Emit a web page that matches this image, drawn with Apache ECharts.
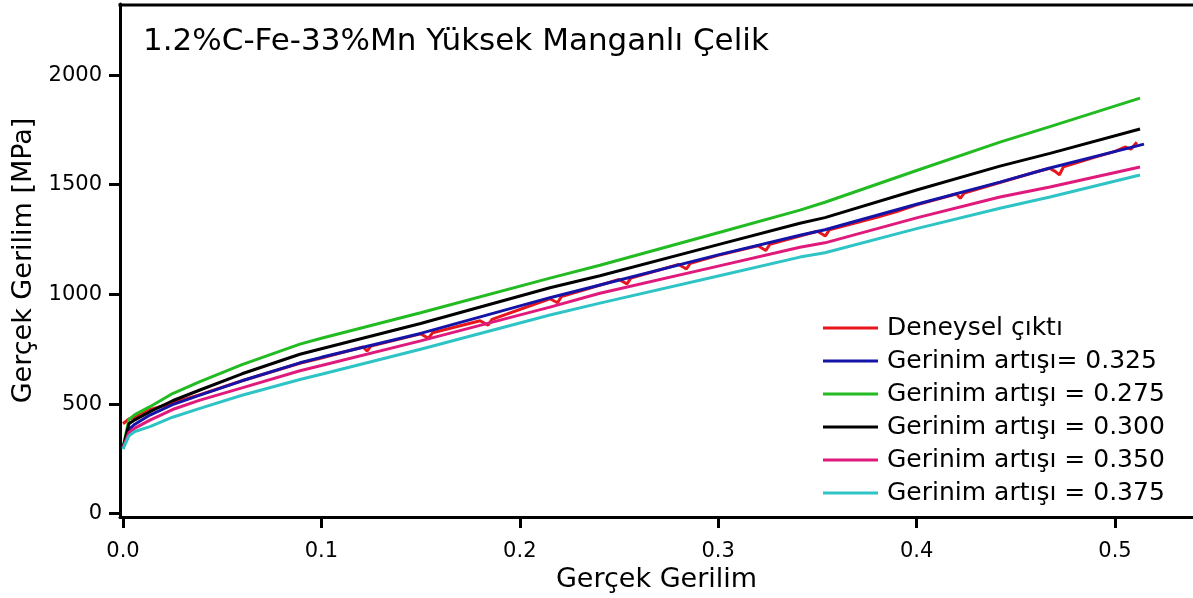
<!DOCTYPE html>
<html>
<head>
<meta charset="utf-8">
<script src="https://cdn.jsdelivr.net/npm/echarts@6/dist/echarts.min.js"></script>
<style>html,body{margin:0;padding:0;background:#fff;}#c{width:1193px;height:598px;}</style>
</head>
<body>
<div id="c"></div>
<script>
// ---- data ----
var titleText = '1.2%C-Fe-33%Mn Yüksek Manganlı Çelik';
var xAxisName = 'Gerçek Gerilim';
var yAxisName = 'Gerçek Gerilim [MPa]';
var xTicks = [0, 0.1, 0.2, 0.3, 0.4, 0.5];
var yTicks = [0, 500, 1000, 1500, 2000];
var seriesNames = ['Deneysel çıktı', 'Gerinim artışı= 0.325', 'Gerinim artışı = 0.275', 'Gerinim artışı = 0.300', 'Gerinim artışı = 0.350', 'Gerinim artışı = 0.375'];

var expStrain = [0, 0.003, 0.006, 0.0136, 0.025, 0.0388, 0.06, 0.0892, 0.1, 0.121, 0.123, 0.125, 0.15, 0.154, 0.156, 0.18, 0.184, 0.186, 0.2152, 0.219, 0.221, 0.25, 0.254, 0.256, 0.28, 0.284, 0.286, 0.3, 0.32, 0.324, 0.326, 0.3412, 0.35, 0.354, 0.356, 0.38, 0.39, 0.4, 0.42, 0.422, 0.424, 0.442, 0.46, 0.467, 0.47, 0.472, 0.474, 0.49, 0.5, 0.505, 0.508, 0.511];
var expStress = [410, 432, 440, 474, 505, 543, 606, 686, 710, 760, 742, 764, 820, 800, 825, 880, 860, 886, 980, 962, 990, 1068, 1048, 1074, 1136, 1116, 1142, 1178, 1222, 1200, 1228, 1266, 1288, 1266, 1294, 1352, 1378, 1408, 1458, 1438, 1462, 1510, 1558, 1575, 1560, 1545, 1582, 1626, 1652, 1672, 1662, 1694];

var simStrain = [0, 0.003, 0.006, 0.0136, 0.025, 0.0388, 0.06, 0.0892, 0.1, 0.15, 0.2152, 0.2404, 0.3, 0.3412, 0.3538, 0.4, 0.442, 0.4672, 0.5126];
var blueStrain = [0, 0.003, 0.006, 0.0136, 0.025, 0.0388, 0.06, 0.0892, 0.1, 0.15, 0.2152, 0.2404, 0.3, 0.3412, 0.3538, 0.4, 0.442, 0.4672, 0.5146];
var stress0325 = [300, 385, 408, 450, 497, 541, 606, 688, 713, 822, 985, 1043, 1180, 1270, 1295, 1411, 1512, 1576, 1685];
var stress0275 = [300, 430, 452, 488, 548, 602, 680, 773, 800, 916, 1074, 1133, 1281, 1384, 1420, 1565, 1694, 1765, 1895];
var stress0300 = [300, 410, 428, 465, 515, 564, 638, 727, 752, 867, 1030, 1085, 1227, 1324, 1350, 1476, 1585, 1643, 1754];
var stress0350 = [300, 370, 390, 427, 475, 518, 574, 652, 676, 788, 942, 1005, 1129, 1215, 1235, 1349, 1444, 1490, 1581];
var stress0375 = [295, 355, 375, 397, 440, 480, 540, 612, 636, 750, 906, 960, 1084, 1170, 1190, 1300, 1393, 1444, 1544];

var colors = ['#e8161c', '#1414a8', '#22bb22', '#000000', '#e01a7c', '#2ec4c6'];

function zip(xs, ys) { return xs.map(function (x, i) { return [x, ys[i]]; }); }

var FONT = 'DejaVu Sans';
var seriesData = [
  zip(expStrain, expStress),
  zip(blueStrain, stress0325),
  zip(simStrain, stress0275),
  zip(simStrain, stress0300),
  zip(simStrain, stress0350),
  zip(simStrain, stress0375)
];

var chart = echarts.init(document.getElementById('c'), null, {renderer: 'canvas'});
chart.setOption({
  animation: false,
  backgroundColor: '#fff',
  color: colors,
  grid: {left: 120, right: 0, top: 4, bottom: 81, containLabel: false, outerBoundsMode: 'none'},
  xAxis: {
    type: 'value', min: -0.0015, max: 0.5393,
    name: xAxisName, nameLocation: 'middle', nameGap: 44,
    nameTextStyle: {fontFamily: FONT, fontSize: 27, color: '#000'},
    axisLine: {show: true, onZero: false, lineStyle: {color: '#000', width: 3}},
    axisTick: {show: true, length: 11, lineStyle: {color: '#000', width: 3}, customValues: xTicks},
    axisLabel: {fontFamily: FONT, fontSize: 21, color: '#000', margin: 24, customValues: xTicks,
      formatter: function (v) { return v.toFixed(1); }},
    splitLine: {show: false}
  },
  yAxis: {
    type: 'value', min: -15, max: 2324,
    name: yAxisName, nameLocation: 'middle', nameGap: 74,
    nameTextStyle: {fontFamily: FONT, fontSize: 27, color: '#000'},
    axisLine: {show: true, onZero: false, lineStyle: {color: '#000', width: 3}},
    axisTick: {show: true, length: 11, lineStyle: {color: '#000', width: 3}, customValues: yTicks},
    axisLabel: {fontFamily: FONT, fontSize: 21, color: '#000', margin: 18, customValues: yTicks,
      formatter: function (v) { return String(v); }},
    splitLine: {show: false}
  },
  legend: {
    orient: 'vertical', left: 818, top: 308,
    icon: 'rect', itemWidth: 55, itemHeight: 3, itemGap: 3,
    textStyle: {fontFamily: FONT, fontSize: 25, color: '#000', lineHeight: 30, padding: [0, 0, 0, 4]},
    data: seriesNames
  },
  graphic: [
    {type: 'text', left: 143, top: 26, style: {text: titleText, font: '31px "DejaVu Sans"', fill: '#000'}},
    {type: 'line', shape: {x1: 118.5, y1: 5, x2: 1193, y2: 5}, style: {stroke: '#000', lineWidth: 3}}
  ],
  series: seriesNames.map(function (n, i) {
    return {
      name: n, type: 'line', data: seriesData[i], showSymbol: false, symbol: 'none',
      smooth: false,
      lineStyle: {width: 3, color: colors[i]}, itemStyle: {color: colors[i]}, z: 2
    };
  })
});
</script>
</body>
</html>
